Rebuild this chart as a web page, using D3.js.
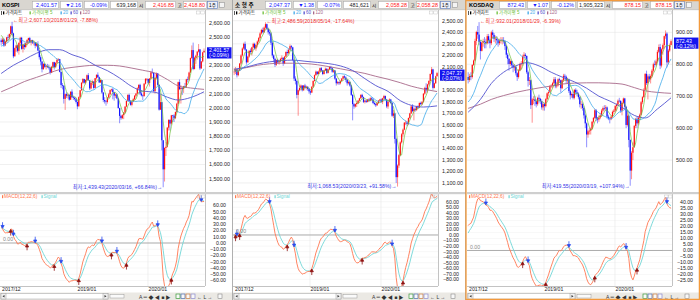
<!DOCTYPE html>
<html>
<head>
<meta charset="utf-8">
<script src="https://cdn.jsdelivr.net/npm/d3@7"></script>
<style>
  body { margin: 0; background: #fff; }
  svg { display: block; font-family: "Liberation Sans", "Noto Sans CJK KR", sans-serif; }
</style>
</head>
<body>
<svg id="chart" width="700" height="300"></svg>
<script>
// weekly candles, first hidden week (for moving average / MACD warm-up)
const firstWeek = "2017-07-24"

const maSampleDates = ["2017-12-04","2018-02-05","2018-04-02","2018-06-04","2018-08-06","2018-10-01","2018-12-03",
  "2019-02-04","2019-04-01","2019-06-03","2019-08-05","2019-10-07","2019-12-02","2020-02-03","2020-04-06",
  "2020-06-01","2020-08-03","2020-10-12"]

const xTickDates = ["2017-12-01", "2019-01-01", "2020-01-01"]
const xTickLabels = ["2017/12", "2019/01", "2020/01"]

// ---- KOSPI ----
const kospiHeader = ["KOSPI", "2,401.57", "▼2.16", "-0.09%", "639,168", "2,416.85", "2,418.80", "(-0.09%)"]
const kospiHiLo = [2607.10, "2018/01/29", "-7.88%", 1439.43, "2020/03/16", "+66.84%"]
const kospiPre = [2400, 2395, 2320, 2358, 2378, 2357, 2346, 2386, 2388, 2394, 2400, 2473, 2489, 2496, 2557, 2542, 2533, 2544, 2476]
const kospiClose = [2464, 2482, 2440, 2467,
  2497, 2496, 2520, 2575, 2525, 2363, 2421, 2440, 2402, 2459, 2494, 2416, 2445, 2429, 2455, 2478, 2492, 2461,
  2477, 2460, 2460, 2438, 2451, 2404, 2357, 2326, 2272, 2310, 2289, 2294, 2287, 2282, 2247, 2289, 2322,
  2287, 2318, 2339, 2343, 2253, 2161, 2156, 2063, 2096, 2086, 2092, 2057, 2114, 2075, 2070, 2061, 2041, 2010,
  2075, 2124, 2177, 2203, 2177, 2196, 2230, 2195, 2137, 2176, 2186, 2140, 2209, 2233, 2216, 2179, 2196,
  2108, 2055, 2045, 2041, 2072, 2095, 2125, 2130, 2110, 2086, 2094, 2066, 1998, 1943, 1927, 1948, 1967,
  2009, 2049, 2091, 2049, 2021, 2044, 2060, 2085, 2100, 2137, 2162, 2101, 2087, 2082, 2170, 2204, 2204, 2176,
  2206, 2250, 2246, 2119, 2211, 2243, 2162, 1987, 2040, 1771, 1566, 1717, 1725, 1860, 1914, 1889, 1947,
  1945, 1927, 1970, 2029, 2181, 2132, 2141, 2134, 2152, 2150, 2201, 2200, 2249, 2351, 2407, 2274, 2353, 2368,
  2396, 2412, 2278, 2327, 2391, 2401.57]
const kospiHigh = [2490, 2495, 2490, 2475,
  2500, 2515, 2525, 2580, 2607.1, 2530, 2425, 2445, 2445, 2460, 2500, 2500, 2450, 2460, 2460, 2485, 2495, 2500,
  2480, 2480, 2475, 2465, 2460, 2470, 2405, 2370, 2330, 2315, 2315, 2305, 2310, 2305, 2290, 2295, 2325,
  2325, 2320, 2345, 2350, 2345, 2255, 2175, 2160, 2100, 2110, 2100, 2095, 2115, 2130, 2085, 2080, 2065, 2045,
  2080, 2125, 2180, 2210, 2205, 2200, 2235, 2245, 2195, 2180, 2195, 2185, 2210, 2235, 2250, 2220, 2200,
  2195, 2110, 2075, 2055, 2075, 2105, 2130, 2135, 2140, 2110, 2100, 2100, 2070, 2000, 1950, 1955, 1970,
  2010, 2050, 2095, 2100, 2055, 2050, 2070, 2090, 2105, 2145, 2165, 2170, 2120, 2095, 2175, 2210, 2210, 2205,
  2210, 2260, 2277, 2235, 2215, 2250, 2245, 2165, 2090, 2040, 1770, 1720, 1760, 1865, 1920, 1920, 1950,
  1950, 1955, 1975, 2035, 2185, 2200, 2160, 2145, 2155, 2175, 2205, 2220, 2255, 2355, 2440, 2460, 2360, 2375,
  2400, 2450, 2415, 2330, 2395, 2418.8]
const kospiLow = [2440, 2450, 2430, 2435,
  2460, 2470, 2480, 2505, 2515, 2350, 2370, 2395, 2390, 2375, 2440, 2410, 2390, 2410, 2420, 2440, 2450, 2455,
  2440, 2450, 2440, 2420, 2430, 2400, 2340, 2300, 2250, 2270, 2280, 2270, 2280, 2270, 2235, 2245, 2285,
  2270, 2280, 2310, 2330, 2250, 2140, 2130, 2030, 1985, 2070, 2065, 2050, 2060, 2070, 2055, 2050, 2030, 1990,
  2010, 2070, 2120, 2170, 2170, 2165, 2190, 2190, 2125, 2130, 2160, 2130, 2140, 2200, 2210, 2175, 2175,
  2100, 2040, 2030, 2015, 2030, 2070, 2090, 2115, 2060, 2050, 2070, 2060, 1995, 1891, 1915, 1920, 1920,
  1960, 2005, 2045, 2040, 2015, 2010, 2040, 2055, 2075, 2095, 2130, 2090, 2080, 2055, 2080, 2165, 2190, 2165,
  2150, 2200, 2240, 2110, 2100, 2200, 2155, 1980, 1985, 1700, 1439.43, 1480, 1660, 1720, 1840, 1840, 1880,
  1900, 1900, 1920, 1965, 2025, 2125, 2030, 2090, 2105, 2140, 2140, 2180, 2190, 2245, 2345, 2265, 2270, 2310,
  2340, 2390, 2267, 2275, 2320, 2390]
const kospiMa60 = [2242, 2300, 2340, 2385, 2410, 2410, 2375, 2345, 2300, 2262, 2210, 2150, 2118, 2110, 2075, 2055, 2072, 2113]
const kospiMa120 = [2113, 2150, 2185, 2215, 2245, 2270, 2285, 2295, 2300, 2300, 2295, 2280, 2265, 2245, 2200, 2155, 2140, 2130]
const kospiTicks = [1500, 1600, 1700, 1800, 1900, 2000, 2100, 2200, 2300, 2400, 2500, 2600]
const kospiMacdTicks = [60, 50, 40, 30, 20, 10, 0, -10, -20, -30, -40, -50, -60]

// ---- 소형주 ----
const smallHeader = ["소 형 주", "2,047.37", "▼1.38", "-0.07%", "481,621", "2,058.28", "2,058.28", "(-0.07%)"]
const smallHiLo = [2486.59, "2018/05/14", "-17.64%", 1068.53, "2020/03/23", "+91.58%"]
const smallPre = [2080, 2070, 2040, 2050, 2060, 2060, 2050, 2060, 2060, 2050, 2060, 2070, 2070, 2080, 2080, 2070, 2080, 2090, 2060]
const smallClose = [2060, 2080, 2030, 2070,
  2130, 2200, 2260, 2300, 2250, 2140, 2190, 2240, 2230, 2270, 2300, 2260, 2290, 2320, 2350, 2390, 2420, 2400,
  2440, 2470, 2430, 2400, 2390, 2310, 2200, 2170, 2120, 2160, 2140, 2150, 2170, 2180, 2130, 2190, 2230,
  2220, 2250, 2280, 2270, 2160, 2000, 1980, 1860, 1900, 1920, 1940, 1900, 1940, 1920, 1930, 1910, 1890, 1880,
  1930, 1980, 2030, 2060, 2040, 2060, 2090, 2070, 2040, 2070, 2085, 2050, 2080, 2100, 2090, 2060, 2070,
  2000, 1960, 1970, 1960, 1980, 2000, 2020, 2010, 1990, 1960, 1970, 1940, 1860, 1780, 1760, 1780, 1790,
  1810, 1830, 1860, 1840, 1800, 1810, 1800, 1820, 1810, 1830, 1820, 1790, 1780, 1770, 1790, 1810, 1820, 1800,
  1830, 1850, 1820, 1760, 1800, 1820, 1790, 1680, 1700, 1480, 1150, 1250, 1340, 1450, 1520, 1560, 1620,
  1620, 1610, 1660, 1700, 1760, 1720, 1740, 1730, 1760, 1750, 1790, 1780, 1800, 1870, 1920, 1900, 1950, 1980,
  2040, 2080, 1920, 1960, 2020, 2047.37]
const smallHigh = [2090, 2100, 2085, 2075,
  2135, 2210, 2270, 2310, 2320, 2255, 2195, 2245, 2260, 2275, 2310, 2310, 2295, 2330, 2360, 2400, 2430, 2440,
  2450, 2486.59, 2475, 2440, 2420, 2400, 2320, 2210, 2180, 2165, 2170, 2160, 2180, 2200, 2185, 2195, 2235,
  2250, 2260, 2295, 2290, 2275, 2165, 2020, 1990, 1905, 1940, 1950, 1945, 1945, 1955, 1940, 1935, 1920, 1900,
  1935, 1985, 2035, 2070, 2065, 2070, 2095, 2100, 2075, 2075, 2095, 2090, 2085, 2105, 2110, 2095, 2075,
  2075, 2005, 1980, 1975, 1985, 2005, 2025, 2030, 2020, 1995, 1980, 1975, 1945, 1865, 1790, 1785, 1795,
  1815, 1835, 1865, 1870, 1845, 1815, 1820, 1825, 1830, 1840, 1840, 1830, 1800, 1790, 1795, 1815, 1825, 1830,
  1835, 1860, 1855, 1825, 1805, 1830, 1825, 1795, 1730, 1705, 1490, 1260, 1350, 1460, 1530, 1570, 1625,
  1640, 1635, 1665, 1705, 1770, 1780, 1750, 1755, 1765, 1770, 1795, 1800, 1805, 1875, 1930, 1960, 1955, 1985,
  2045, 2100, 2085, 1965, 2025, 2058.28]
const smallLow = [2030, 2040, 2010, 2020,
  2065, 2120, 2190, 2250, 2240, 2120, 2140, 2180, 2215, 2200, 2260, 2250, 2240, 2270, 2310, 2340, 2380, 2390,
  2395, 2430, 2420, 2380, 2370, 2290, 2180, 2140, 2100, 2110, 2130, 2120, 2140, 2160, 2110, 2125, 2185,
  2200, 2210, 2245, 2255, 2150, 1980, 1950, 1830, 1680, 1890, 1900, 1890, 1895, 1910, 1905, 1895, 1870, 1860,
  1875, 1925, 1975, 2025, 2030, 2035, 2055, 2060, 2030, 2035, 2065, 2040, 2045, 2075, 2080, 2050, 2050,
  1990, 1940, 1950, 1945, 1950, 1975, 1995, 2000, 1970, 1940, 1950, 1930, 1850, 1640, 1740, 1750, 1755,
  1780, 1805, 1825, 1830, 1790, 1785, 1790, 1795, 1800, 1805, 1810, 1780, 1770, 1755, 1765, 1785, 1805, 1790,
  1780, 1825, 1810, 1745, 1740, 1795, 1780, 1670, 1660, 1440, 1100, 1068.53, 1230, 1330, 1440, 1500, 1555,
  1600, 1590, 1600, 1650, 1695, 1710, 1640, 1715, 1720, 1740, 1745, 1770, 1770, 1795, 1860, 1880, 1880, 1940,
  1975, 2035, 1905, 1915, 1955, 2035]
const smallMa60 = [2081, 2100, 2125, 2145, 2155, 2160, 2150, 2140, 2130, 2110, 2070, 2000, 1940, 1890, 1810, 1770, 1755, 1765]
const smallMa120 = [2075, 2095, 2115, 2128, 2133, 2133, 2130, 2120, 2105, 2085, 2065, 2045, 2020, 1995, 1965, 1935, 1910, 1888]
const smallTicks = [1100, 1200, 1300, 1400, 1500, 1600, 1700, 1800, 1900, 2000, 2100, 2200, 2300, 2400, 2500]
const smallMacdTicks = [60, 50, 40, 30, 20, 10, 0, -10, -20, -30, -40, -50, -60, -70, -80]

// ---- KOSDAQ ----
const kosdaqHeader = ["KOSDAQ", "872.43", "▼1.07", "-0.12%", "1,905,323", "878.15", "878.15", "(-0.12%)"]
const kosdaqHiLo = [932.01, "2018/01/29", "-6.39%", 419.55, "2020/03/19", "+107.94%"]
const kosdaqPre = [660, 650, 635, 645, 652, 655, 650, 657, 652, 652, 652, 660, 661, 693, 708, 718, 741, 785, 760]
const kosdaqClose = [751, 763, 760, 798,
  812, 873, 901, 893, 870, 842, 868, 872, 870, 866, 888, 875, 866, 900, 892, 880, 880, 875,
  866, 874, 875, 876, 872, 857, 830, 817, 801, 810, 797, 790, 792, 772, 760, 781, 801,
  802, 825, 830, 826, 775, 748, 750, 672, 690, 690, 685, 675, 695, 692, 684, 665, 675, 669,
  691, 709, 713, 731, 733, 741, 753, 731, 734, 753, 750, 725, 750, 764, 761, 749, 752,
  716, 703, 707, 695, 720, 712, 708, 697, 675, 675, 663, 640, 615, 580, 590, 592, 598,
  620, 632, 656, 630, 627, 633, 640, 655, 663, 662, 665, 636, 630, 628, 636, 651, 655, 669,
  674, 686, 685, 655, 679, 693, 667, 610, 639, 563, 467, 523, 540, 607, 629, 615, 633,
  642, 681, 697, 720, 770, 741, 762, 753, 763, 780, 800, 798, 809, 839, 854, 796, 847, 860,
  888, 896, 806, 843, 860, 872.43]
const kosdaqHigh = [775, 770, 775, 800,
  815, 880, 905, 920, 932.01, 875, 872, 880, 885, 880, 895, 895, 880, 905, 908, 898, 890, 888,
  880, 880, 885, 885, 885, 875, 860, 835, 820, 815, 812, 800, 800, 795, 775, 785, 805,
  810, 830, 838, 835, 828, 780, 760, 752, 695, 700, 700, 690, 698, 705, 695, 690, 680, 680,
  695, 712, 718, 735, 738, 745, 760, 760, 745, 756, 758, 752, 753, 770, 770, 765, 758,
  755, 720, 712, 715, 722, 725, 720, 712, 700, 685, 680, 668, 645, 618, 595, 600, 602,
  622, 635, 660, 660, 635, 640, 648, 660, 668, 672, 672, 668, 642, 635, 640, 655, 660, 672,
  678, 690, 695, 688, 682, 696, 695, 670, 650, 642, 565, 528, 555, 610, 632, 635, 638,
  646, 685, 700, 725, 772, 780, 768, 770, 768, 785, 805, 812, 815, 845, 862, 864, 850, 865,
  890, 906, 900, 848, 865, 878.15]
const kosdaqLow = [740, 745, 750, 755,
  795, 810, 860, 880, 860, 815, 840, 855, 850, 850, 862, 865, 850, 860, 880, 870, 865, 860,
  855, 860, 865, 862, 865, 845, 820, 800, 780, 795, 790, 775, 780, 765, 748, 755, 778,
  785, 795, 815, 820, 770, 730, 735, 660, 617, 675, 670, 665, 670, 680, 675, 658, 655, 655,
  665, 688, 700, 710, 725, 725, 738, 725, 725, 730, 742, 712, 722, 745, 752, 740, 740,
  710, 690, 695, 690, 690, 705, 700, 690, 665, 660, 655, 630, 600, 540, 570, 580, 580,
  595, 615, 628, 622, 615, 620, 628, 635, 650, 655, 655, 630, 625, 615, 625, 632, 645, 650,
  655, 670, 680, 648, 640, 675, 660, 600, 605, 540, 419.55, 440, 500, 540, 600, 600, 610,
  625, 640, 675, 695, 718, 735, 690, 745, 740, 758, 775, 790, 795, 805, 835, 785, 790, 830,
  850, 880, 790, 800, 838, 865]
const kosdaqMa60 = [650, 690, 740, 775, 795, 805, 795, 775, 760, 745, 725, 700, 685, 665, 640, 632, 660, 695]
const kosdaqMa120 = [662, 675, 690, 702, 712, 719, 726, 732, 738, 741, 742, 742, 741, 738, 727, 717, 712, 709]
const kosdaqTicks = [500, 600, 700, 800, 900]
const kosdaqMacdTicks = [40, 35, 30, 25, 20, 15, 10, 5, 0, -5, -10, -15, -20, -25]

const panels = [
  { id: "p1", ox: 0, header: kospiHeader, hiLo: kospiHiLo, pre: kospiPre, close: kospiClose, high: kospiHigh, low: kospiLow,
    ma60: kospiMa60, ma120: kospiMa120, ticks: kospiTicks, macdTicks: kospiMacdTicks,
    yDomain: [1406, 2690], macdDomain: [-68.8, 75.2] },
  { id: "p2", ox: 233, header: smallHeader, hiLo: smallHiLo, pre: smallPre, close: smallClose, high: smallHigh, low: smallLow,
    ma60: smallMa60, ma120: smallMa120, ticks: smallTicks, macdTicks: smallMacdTicks,
    yDomain: [1022, 2592], macdDomain: [-92, 70.3] },
  { id: "p3", ox: 467, header: kosdaqHeader, hiLo: kosdaqHiLo, pre: kosdaqPre, close: kosdaqClose, high: kosdaqHigh, low: kosdaqLow,
    ma60: kosdaqMa60, ma120: kosdaqMa120, ticks: kosdaqTicks, macdTicks: kosdaqMacdTicks,
    yDomain: [400, 970], macdDomain: [-29.6, 45.4] }
]

const parseDay = d3.timeParse("%Y-%m-%d")
const parseSlash = d3.timeParse("%Y/%m/%d")
const fmt2 = d3.format(",.2f")

const W = 233, R = 205
const priceTop = 10, priceBot = 192, macdTop = 196, macdBot = 286

const xScale = d3.scaleTime()
  .domain([parseDay("2017-12-01"), parseDay("2020-10-20")])
  .range([0, R])

const svg = d3.select("#chart")
svg.append("rect").attr("width", 700).attr("height", 300).attr("fill", "#fff")

function sma(arr, n) {
  return arr.map((_, i) => d3.mean(arr.slice(Math.max(0, i - n + 1), i + 1)))
}
function ema(arr, n) {
  const a = 2 / (n + 1)
  const out = []
  arr.forEach((v, i) => out.push(i === 0 ? v : a * v + (1 - a) * out[i - 1]))
  return out
}

const colors = { up: "#ff1010", down: "#1010ff", ma5: "#6cbf3a", ma20: "#3fa9ea", ma60: "#5252d0", ma120: "#a8698a",
  macd: "#ff7650", signal: "#6fd6d6", grid: "#e6e6e6" }

function drawPanel(p) {
  const g = svg.append("g").attr("transform", `translate(${p.ox},0)`)
  const yP = d3.scaleLinear().domain(p.yDomain).range([priceBot, priceTop])
  const yM = d3.scaleLinear().domain(p.macdDomain).range([macdBot, macdTop])

  const all = p.pre.concat(p.close)
  const nPre = p.pre.length
  const start = parseDay(firstWeek)
  const dates = all.map((_, i) => d3.timeMonday.offset(start, i))
  const xi = i => xScale(dates[i]) + 0.6

  // clips
  g.append("clipPath").attr("id", p.id + "cp").append("rect")
    .attr("x", 0).attr("y", priceTop).attr("width", R).attr("height", priceBot - priceTop)
  g.append("clipPath").attr("id", p.id + "cm").append("rect")
    .attr("x", 0).attr("y", macdTop - 2).attr("width", R).attr("height", macdBot - macdTop + 2)

  // header
  const hdr = p.header
  g.append("rect").attr("width", W).attr("height", 10).attr("fill", "#d9d6d0")
  g.append("text").attr("x", 2).attr("y", 7.2).attr("font-size", 5.6).attr("font-weight", "bold").text(hdr[0])
  const boxes = [[32, 58, hdr[1], "#1a1aff"], [60, 82, hdr[2], "#1a1aff"], [84, 108, hdr[3], "#1a1aff"],
    [110, 137, hdr[4], "#222"], [145, 175, hdr[5], "#ff2020"], [183, 206, hdr[6], "#ff2020"]]
  boxes.forEach(([a, b, t, c]) => {
    g.append("rect").attr("x", a + 0.5).attr("y", 1.5).attr("width", b - a).attr("height", 7)
      .attr("fill", "#fff").attr("stroke", "#a8a8a8").attr("stroke-width", 0.5)
    g.append("text").attr("x", b - 1).attr("y", 7.1).attr("text-anchor", "end")
      .attr("font-size", 5.4).attr("fill", c).text(t)
  })
  g.append("text").attr("x", 141).attr("y", 7.2).attr("text-anchor", "middle").attr("font-size", 4.6).text("시")
  g.append("text").attr("x", 179.5).attr("y", 7.2).attr("text-anchor", "middle").attr("font-size", 4.6).text("고")
  g.append("rect").attr("x", 207.5).attr("y", 1.5).attr("width", 10).attr("height", 7)
    .attr("fill", "#eef0f8").attr("stroke", "#5c7cc0").attr("stroke-width", 0.6)
  g.append("text").attr("x", 212.5).attr("y", 7.1).attr("text-anchor", "middle").attr("font-size", 4.6).text("1주")
  g.append("rect").attr("x", 219.5).attr("y", 2.5).attr("width", 5).attr("height", 5)
    .attr("fill", "#f4f4f4").attr("stroke", "#888").attr("stroke-width", 0.5)
  g.append("line").attr("x1", 0).attr("x2", W).attr("y1", 9.75).attr("y2", 9.75).attr("stroke", "#b8b8b8").attr("stroke-width", 0.5)

  // grid
  const grid = g.append("g").attr("stroke", colors.grid).attr("stroke-width", 0.6)
  p.ticks.forEach(v => grid.append("line").attr("x1", 0).attr("x2", R).attr("y1", yP(v)).attr("y2", yP(v)))
  p.macdTicks.forEach(v => grid.append("line").attr("x1", 0).attr("x2", R).attr("y1", yM(v)).attr("y2", yM(v))
    .attr("stroke", "#f1f1f1"))
  xTickDates.slice(1).forEach(d => {
    const xx = xScale(parseDay(d))
    grid.append("line").attr("x1", xx).attr("x2", xx).attr("y1", priceTop).attr("y2", priceBot)
    grid.append("line").attr("x1", xx).attr("x2", xx).attr("y1", macdTop - 2).attr("y2", macdBot)
  })

  // candles
  const cg = g.append("g").attr("clip-path", `url(#${p.id}cp)`)
  p.close.forEach((c, k) => {
    const i = nPre + k
    const o = all[i - 1]
    const h = Math.max(p.high[k], o, c), l = Math.min(p.low[k], o, c)
    const col = c >= o ? colors.up : colors.down
    const xx = xi(i)
    cg.append("line").attr("x1", xx).attr("x2", xx).attr("y1", yP(h)).attr("y2", yP(l))
      .attr("stroke", col).attr("stroke-width", 0.55).attr("stroke-opacity", 0.85)
    const y0 = yP(Math.max(o, c)), y1 = yP(Math.min(o, c))
    cg.append("rect").attr("x", xx - 0.6).attr("width", 1.2).attr("y", y0).attr("height", Math.max(0.6, y1 - y0))
      .attr("fill", col)
  })

  // moving averages
  const ma5 = sma(all, 5), ma20 = sma(all, 20)
  const vis = d3.range(nPre, all.length)
  const line = d3.line().x(d => d[0]).y(d => yP(d[1]))
  const smooth = d3.line().x(d => d[0]).y(d => yP(d[1])).curve(d3.curveMonotoneX)
  const sampleX = maSampleDates.map(d => xScale(parseDay(d)) + 0.6)
  cg.append("path").attr("d", smooth(sampleX.map((xx, j) => [xx, p.ma120[j]])))
    .attr("fill", "none").attr("stroke", colors.ma120).attr("stroke-width", 0.9)
  cg.append("path").attr("d", smooth(sampleX.map((xx, j) => [xx, p.ma60[j]])))
    .attr("fill", "none").attr("stroke", colors.ma60).attr("stroke-width", 0.9)
  cg.append("path").attr("d", line(vis.map(i => [xi(i), ma20[i]])))
    .attr("fill", "none").attr("stroke", colors.ma20).attr("stroke-width", 0.8)
  cg.append("path").attr("d", line(vis.map(i => [xi(i), ma5[i]])))
    .attr("fill", "none").attr("stroke", colors.ma5).attr("stroke-width", 0.7)

  // legend
  const lg = g.append("g").attr("font-size", 4.5)
  const items = [[4, "가격차트", "#000"], [30.5, "가격이평 5", colors.ma5], [61.5, "20", colors.ma20],
    [71.5, "60", colors.ma60], [81, "120", colors.ma120]]
  items.forEach(([xx, t, c], j) => {
    lg.append("rect").attr("x", xx - 1).attr("y", 11.4).attr("width", 1.3).attr("height", 3).attr("fill", c)
    lg.append("text").attr("x", xx + 1.6).attr("y", 14.4).attr("fill", j === 0 ? "#111" : c).text(t)
  })
  g.append("rect").attr("x", 1.2).attr("y", 11).attr("width", 0.8).attr("height", 4).attr("fill", "#333")
  g.append("rect").attr("x", 196.5).attr("y", 11).attr("width", 3.5).attr("height", 3).attr("fill", "none").attr("stroke", "#bbb").attr("stroke-width", 0.4)
  g.append("rect").attr("x", 200.8).attr("y", 11).attr("width", 3.5).attr("height", 3).attr("fill", "none").attr("stroke", "#bbb").attr("stroke-width", 0.4)

  // high / low notes
  const hi = p.hiLo
  g.append("text").attr("x", xScale(parseSlash(hi[1])) + 1.5).attr("y", yP(hi[0]) + 0.5)
    .attr("font-size", 5.2).attr("fill", "#ee2a2a")
    .text(`←최고:${fmt2(hi[0])}(${hi[1]}, ${hi[2]})`)
  g.append("text").attr("x", xScale(parseSlash(hi[4])) - 0.5).attr("y", yP(hi[3]) + 1.8)
    .attr("text-anchor", "end").attr("font-size", 5.2).attr("fill", "#3232e6")
    .text(`최저:${fmt2(hi[3])}(${hi[4]}, ${hi[5]})→`)

  // right axis, price
  g.append("line").attr("x1", R + 0.5).attr("x2", R + 0.5).attr("y1", priceTop).attr("y2", macdBot)
    .attr("stroke", "#9a9a9a").attr("stroke-width", 0.6)
  p.ticks.forEach(v => g.append("text").attr("x", 209).attr("y", yP(v) + 1.9)
    .attr("font-size", 5.4).attr("fill", "#222").text(fmt2(v)))
  const last = p.close[p.close.length - 1]
  const yl = yP(last)
  g.append("rect").attr("x", 207).attr("y", yl - 3.6).attr("width", 24.5).attr("height", 11.2).attr("fill", "#1414f0")
  g.append("text").attr("x", 209).attr("y", yl + 1.6).attr("font-size", 5.2).attr("fill", "#fff").text(fmt2(last))
  g.append("text").attr("x", 209).attr("y", yl + 6.6).attr("font-size", 5.2).attr("fill", "#fff").text(hdr[7])

  // separator
  g.append("rect").attr("x", 0).attr("y", priceBot).attr("width", W).attr("height", 2.2).attr("fill", "#cfcfcf")

  // MACD
  const e12 = ema(all, 12), e22 = ema(all, 22)
  const macd = all.map((_, i) => e12[i] - e22[i])
  const signal = ema(macd, 6)
  const mg = g.append("g").attr("clip-path", `url(#${p.id}cm)`)
  mg.append("line").attr("x1", 0).attr("x2", R).attr("y1", yM(0)).attr("y2", yM(0))
    .attr("stroke", "#a4a4a4").attr("stroke-width", 0.9)
  const mline = d3.line().x(d => d[0]).y(d => yM(d[1]))
  mg.append("path").attr("d", mline(vis.map(i => [xi(i), signal[i]])))
    .attr("fill", "none").attr("stroke", colors.signal).attr("stroke-width", 0.9)
  mg.append("path").attr("d", mline(vis.map(i => [xi(i), macd[i]])))
    .attr("fill", "none").attr("stroke", colors.macd).attr("stroke-width", 0.9)

  // crossover arrows
  vis.slice(1).forEach(i => {
    const d0 = macd[i - 1] - signal[i - 1], d1 = macd[i] - signal[i]
    const xx = xi(i), yy = yM(macd[i])
    if (d0 > 0 && d1 <= 0) {
      mg.append("path").attr("d", `M${xx},${yy - 6.5}V${yy - 2.5}M${xx - 1.6},${yy - 3.2}L${xx + 1.6},${yy - 3.2}L${xx},${yy - 0.4}Z`)
        .attr("stroke", "#2a4cf0").attr("stroke-width", 0.8).attr("fill", "#2a4cf0")
    } else if (d0 < 0 && d1 >= 0) {
      mg.append("path").attr("d", `M${xx},${yy + 6.5}V${yy + 2.5}M${xx - 1.6},${yy + 3.2}L${xx + 1.6},${yy + 3.2}L${xx},${yy + 0.4}Z`)
        .attr("stroke", "#8e1212").attr("stroke-width", 0.8).attr("fill", "#8e1212")
    }
  })

  g.append("text").attr("x", 3).attr("y", yM(0) - 1.8).attr("font-size", 5.2).attr("fill", "#8a8a8a").text("0.00")
  const ml = g.append("g").attr("font-size", 4.8)
  ml.append("rect").attr("x", 2).attr("y", 195.2).attr("width", 1.2).attr("height", 3).attr("fill", colors.macd)
  ml.append("text").attr("x", 4).attr("y", 198.2).attr("fill", colors.macd).text("MACD(12,22,6)")
  ml.append("rect").attr("x", 41.5).attr("y", 195.2).attr("width", 1.2).attr("height", 3).attr("fill", colors.signal)
  ml.append("text").attr("x", 43.5).attr("y", 198.2).attr("fill", colors.signal).text("Signal")
  g.append("rect").attr("x", 197.5).attr("y", 195).attr("width", 3.5).attr("height", 3).attr("fill", "none").attr("stroke", "#bbb").attr("stroke-width", 0.4)
  g.append("rect").attr("x", 201.5).attr("y", 195).attr("width", 3.5).attr("height", 3).attr("fill", "none").attr("stroke", "#bbb").attr("stroke-width", 0.4)

  p.macdTicks.forEach(v => g.append("text").attr("x", 226).attr("y", yM(v) + 1.9).attr("text-anchor", "end")
    .attr("font-size", 5.2).attr("fill", "#222").text(fmt2(v)))

  // x axis
  g.append("line").attr("x1", 0).attr("x2", R).attr("y1", macdBot + 0.5).attr("y2", macdBot + 0.5)
    .attr("stroke", "#9a9a9a").attr("stroke-width", 0.6)
  xTickDates.forEach((d, j) => g.append("text").attr("x", Math.max(2, xScale(parseDay(d)) + 0.5)).attr("y", 291)
    .attr("font-size", 5.2).attr("fill", "#222").text(xTickLabels[j]))

  // bottom toolbar
  g.append("rect").attr("x", 0).attr("y", 292.5).attr("width", W).attr("height", 7.5).attr("fill", "#ebe9e4")
  g.append("rect").attr("x", 1).attr("y", 293.5).attr("width", 107).attr("height", 5.5)
    .attr("fill", "#fff").attr("stroke", "#a0a0a0").attr("stroke-width", 0.5)
  g.append("rect").attr("x", 1).attr("y", 293.5).attr("width", 5).attr("height", 5.5)
    .attr("fill", "#f0f0f0").attr("stroke", "#a0a0a0").attr("stroke-width", 0.5)
  g.append("path").attr("d", "M2.5,296.2L4.5,295V297.4Z").attr("fill", "#333")
  g.append("rect").attr("x", 103).attr("y", 293.5).attr("width", 5).attr("height", 5.5)
    .attr("fill", "#f0f0f0").attr("stroke", "#a0a0a0").attr("stroke-width", 0.5)
  g.append("path").attr("d", "M106.5,296.2L104.5,295V297.4Z").attr("fill", "#333")
  g.append("rect").attr("x", 110).attr("y", 294.5).attr("width", 14).attr("height", 3.5)
    .attr("fill", "#fafafa").attr("stroke", "#888").attr("stroke-width", 0.4)
  g.append("text").attr("x", 139).attr("y", 298.6).attr("font-size", 5).attr("fill", "#333")
    .text("A ═ ◆ ◀ ■ ▶")
  const icons = ["#3a9a3a", "#4a6ab0", "#c87a3a", "#8a8ad0"]
  icons.forEach((c, j) => g.append("rect").attr("x", 176 + j * 5).attr("y", 294).attr("width", 4).attr("height", 4.5)
    .attr("fill", "#f8f8f8").attr("stroke", c).attr("stroke-width", 0.7))
  g.append("text").attr("x", 197).attr("y", 298.6).attr("font-size", 5).attr("fill", "#333").text("← L → ")
  g.append("rect").attr("x", 218).attr("y", 294).attr("width", 4).attr("height", 4.5)
    .attr("fill", "#f8f8f8").attr("stroke", "#777").attr("stroke-width", 0.5)

  // panel divider
  g.append("line").attr("x1", W - 0.5).attr("x2", W - 0.5).attr("y1", 0).attr("y2", 300)
    .attr("stroke", "#9c9c9c").attr("stroke-width", 0.8)
}

panels.forEach(drawPanel)

// active panel frame
svg.append("rect").attr("x", 466).attr("y", 0.6).attr("width", 233.4).attr("height", 298.8)
  .attr("fill", "none").attr("stroke", "#f39a3c").attr("stroke-width", 1.3)
</script>
</body>
</html>
